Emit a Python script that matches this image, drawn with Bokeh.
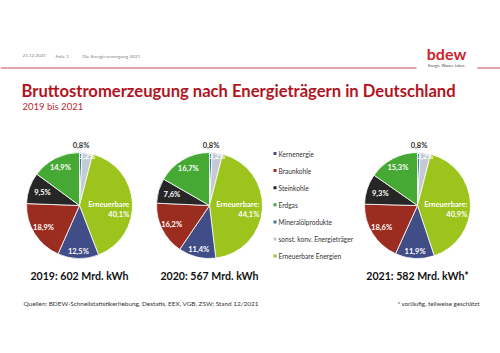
import math
from bokeh.plotting import figure
from bokeh.models import Range1d, ColumnDataSource
from bokeh.core.properties import value
from bokeh.embed import file_html
from bokeh.resources import INLINE

# ---------------- data ----------------
categories = ["Kernenergie", "Braunkohle", "Steinkohle", "Erdgas",
              "Mineralölprodukte", "sonst. konv. Energieträger", "Erneuerbare Energien"]
years = ["2019", "2020", "2021"]
totals = [602, 567, 582]
total_suffix = ["", "", "*"]
share_2019 = [12.5, 18.9, 9.5, 14.9, 0.8, 3.2, 40.1]
share_2020 = [11.4, 16.2, 7.6, 16.7, 0.8, 3.2, 44.1]
share_2021 = [11.9, 18.6, 9.3, 15.3, 0.8, 3.2, 40.9]
shares = [share_2019, share_2020, share_2021]
ren_labels = ["Erneuerbare", "Erneuerbare:", "Erneuerbare:"]

# ---------------- style / layout ----------------
colors = ["#414d86", "#9b2d20", "#262626", "#45a933", "#4a6fa5", "#c3cbd6", "#9cc41c"]
pie_order = [4, 5, 6, 0, 1, 2, 3]          # clockwise from 12 o'clock
label_rf = {0: 0.86, 1: 0.80, 2: 0.74, 3: 0.80, 4: 1.13, 5: 0.93}
W, H = 500, 353
centers_x = [79, 209, 417]
center_y = 205
R = 53
FONT = "Lato"
RED = "#b2141e"

def Y(sy):
    return H - sy

p = figure(width=W, height=H, output_backend="svg", toolbar_location=None,
           x_range=Range1d(0, W), y_range=Range1d(0, H),
           x_axis_location=None, y_axis_location=None, min_border=0)
p.grid.visible = False
p.outline_line_color = None
p.background_fill_color = "white"
p.border_fill_color = "white"

def txt(x, y, t, size, color="#222222", align="left", bold=False, baseline="middle"):
    p.text(x=[x], y=[Y(y)], text=[t], text_font=value(FONT),
           text_font_size=f"{size}px", text_color=color, text_align=align,
           text_baseline=baseline, text_font_style="bold" if bold else "normal")

def fmt(v):
    return f"{v:.1f}".replace(".", ",") + "%"

# ---------------- header ----------------
txt(22, 55, "21.12.2021", 4.6, "#808080")
txt(55, 55, "Folie 1", 4.6, "#808080")
txt(82, 55, "Die Energieversorgung 2021", 4.6, "#808080")
p.segment(x0=[0, 477], y0=[Y(67.5)] * 2, x1=[416, 500], y1=[Y(67.5)] * 2,
          line_color="#d9848b", line_width=1.5)
txt(446, 53, "bdew", 16, "#d0202b", align="center", bold=True)
txt(446, 65, "Energie. Wasser. Leben.", 3.6, "#444444", align="center")

txt(21, 90, "Bruttostromerzeugung nach Energieträgern in Deutschland", 16.6, RED, bold=True)
txt(22, 106, "2019 bis 2021", 9.5, "#c0282e")

# ---------------- pies ----------------
labels = []
for k in range(3):
    cx = centers_x[k]
    vals = shares[k]
    tot = sum(vals)
    cum = 0.0
    xs, ys, sa, ea, cols = [], [], [], [], []
    for i in pie_order:
        f0 = cum / tot
        cum += vals[i]
        f1 = cum / tot
        a_start = math.pi / 2 - 2 * math.pi * f1
        a_end = math.pi / 2 - 2 * math.pi * f0
        xs.append(cx); ys.append(Y(center_y)); sa.append(a_start); ea.append(a_end)
        cols.append(colors[i])
        mid = (a_start + a_end) / 2
        if i == 6:
            rx = cx + 0.94 * R
            labels.append((rx, center_y - 1, ren_labels[k], "white", "right"))
            labels.append((rx, center_y + 9, fmt(vals[i]), "white", "right"))
        else:
            rf = label_rf[i]
            lx = cx + rf * R * math.cos(mid)
            ly = center_y - rf * R * math.sin(mid)
            col = "#333333" if i == 4 else "white"
            labels.append((lx, ly, fmt(vals[i]), col, "center"))
    src = ColumnDataSource(dict(x=xs, y=ys, sa=sa, ea=ea, c=cols))
    p.wedge(x="x", y="y", radius=R, start_angle="sa", end_angle="ea", source=src,
            fill_color="c", line_color="white", line_width=0.8)
    txt(cx, 275, f"{years[k]}: {totals[k]} Mrd. kWh{total_suffix[k]}", 10.6, "#111111",
        align="center", bold=True)

for (lx, ly, t, col, al) in labels:
    txt(lx, ly, t, 7.5, col, align=al, bold=True)

# ---------------- legend ----------------
leg_x = 273
leg_y0 = 153
leg_dy = 17.1
for j, name in enumerate(categories):
    yy = leg_y0 + j * leg_dy
    p.rect(x=[leg_x + 1.5], y=[Y(yy)], width=3, height=3, fill_color=colors[j], line_color=None)
    txt(leg_x + 5, yy, name, 6.6, "#333333")

# ---------------- footer ----------------
txt(23, 303, "Quellen: BDEW-Schnellstatistikerhebung, Destatis, EEX, VGB, ZSW; Stand 12/2021", 6.4, "#333333")
txt(479, 303, "* vorläufig, teilweise geschätzt", 6.2, "#333333", align="right")

open("out.html", "w").write(file_html(p, INLINE))
